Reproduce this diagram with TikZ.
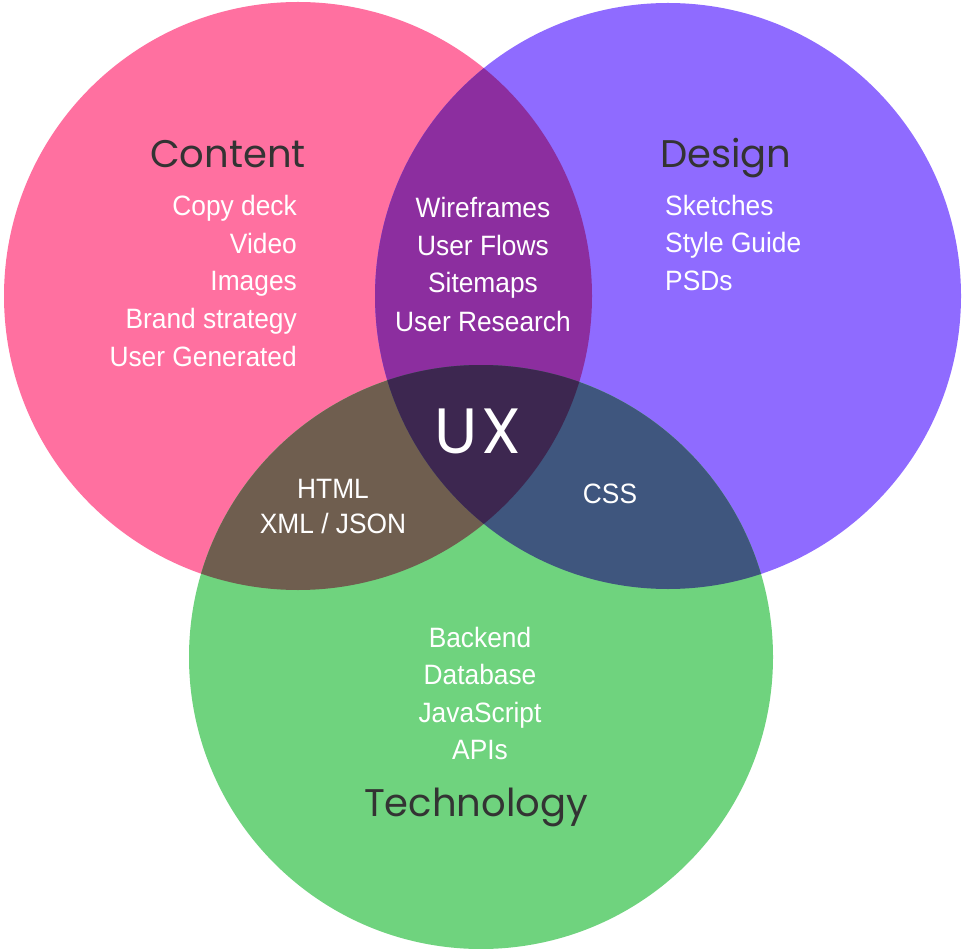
\documentclass[tikz,border=0pt]{standalone}
\usepackage{fontspec}
\newfontfamily\itemfont[FakeStretch=0.94]{Liberation Sans}
\newfontfamily\headfont{Poppins}
\newfontfamily\uxfont[LetterSpace=6]{Poppins}
\definecolor{cpink}{HTML}{FF70A0}
\definecolor{cpurple}{HTML}{8F6BFF}
\definecolor{cgreen}{HTML}{6FD37E}
\definecolor{cpp}{HTML}{8C2E9F}
\definecolor{cpg}{HTML}{6F5E4F}
\definecolor{cug}{HTML}{3F567E}
\definecolor{call}{HTML}{3D2750}
\definecolor{headcol}{HTML}{333333}
\tikzset{
  itm/.style={text=white, inner sep=0pt, font=\itemfont\fontsize{28}{30}\selectfont},
  hdr/.style={text=headcol, inner sep=0pt, font=\headfont\fontsize{38.5}{44}\selectfont},
}
\begin{document}
\begin{tikzpicture}[x=1pt,y=-1pt]
\useasboundingbox (0,0) rectangle (963,949);
\fill[white] (0,0) rectangle (963,949);
\def\cA{(298,296) circle (294)}
\def\cB{(668,296) circle (293)}
\def\cC{(481,657) circle (292)}
\fill[cpink] \cA;
\fill[cpurple] \cB;
\fill[cgreen] \cC;
\begin{scope}\clip \cA; \fill[cpp] \cB; \end{scope}
\begin{scope}\clip \cA; \fill[cpg] \cC; \end{scope}
\begin{scope}\clip \cB; \fill[cug] \cC; \end{scope}
\begin{scope}\clip \cA; \clip \cB; \fill[call] \cC; \end{scope}
% headers
\node[hdr, anchor=base] (content) at (228,168) {Content};
\node[hdr, anchor=base west] (design) at (660,168) {Design};
\node[hdr, anchor=base] (tech) at (476,816) {Technology};
\node[text=white, inner sep=0pt, anchor=base, font=\uxfont\fontsize{64}{66}\selectfont] (ux) at (478,453) {UX};
% content items
\node[itm, anchor=base east] (c1) at (297,216) {Copy deck};
\node[itm, anchor=base east] (c2) at (297,253.5) {Video};
\node[itm, anchor=base east] (c3) at (297,291) {Images};
\node[itm, anchor=base east] (c4) at (297,328.5) {Brand strategy};
\node[itm, anchor=base east] (c5) at (297,366) {User Generated};
% content-design
\node[itm, anchor=base] (w1) at (483,218) {Wireframes};
\node[itm, anchor=base] (w2) at (483,256) {User Flows};
\node[itm, anchor=base] (w3) at (483,293) {Sitemaps};
\node[itm, anchor=base] (w4) at (483,331) {User Research};
% design items
\node[itm, anchor=base west] (d1) at (665,216) {Sketches};
\node[itm, anchor=base west] (d2) at (665,253) {Style Guide};
\node[itm, anchor=base west] (d3) at (665,291) {PSDs};
% content-tech
\node[itm, anchor=base] (h1) at (333,498) {HTML};
\node[itm, anchor=base] (h2) at (333,533) {XML / JSON};
% design-tech
\node[itm, anchor=base] (css) at (610,503) {CSS};
% tech items
\node[itm, anchor=base] (t1) at (480,647) {Backend};
\node[itm, anchor=base] (t2) at (480,684) {Database};
\node[itm, anchor=base] (t3) at (480,722) {JavaScript};
\node[itm, anchor=base] (t4) at (480,759) {APIs};
\end{tikzpicture}
\end{document}
